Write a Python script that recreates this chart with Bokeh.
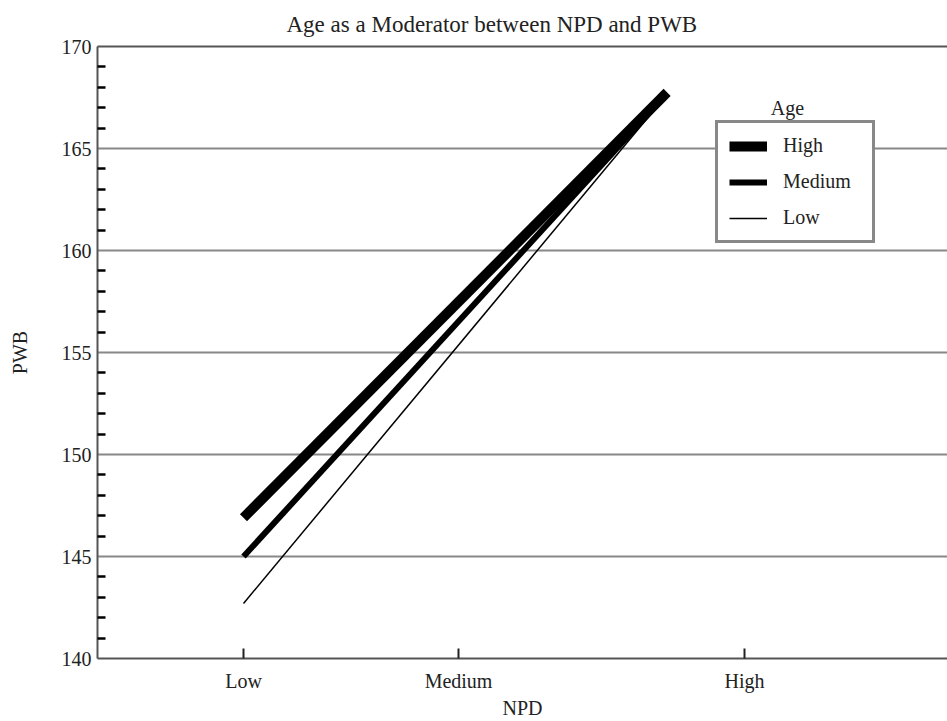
from bokeh.plotting import figure
from bokeh.models import (FixedTicker, LinearAxis, Legend, LegendItem, Label, Range1d)
from bokeh.embed import file_html
from bokeh.resources import INLINE

# ---- data ----
npd_tick_labels = ["Low", "Medium", "High"]
npd_tick_values = [0.0, 1.0, 2.33]
npd_line_x = [0.0, 1.97]
age_groups = ["High", "Medium", "Low"]
pwb_high_age = [146.9, 167.75]
pwb_medium_age = [145.0, 167.7]
pwb_low_age = [142.7, 167.65]
pwb_major_ticks = [140, 145, 150, 155, 160, 165, 170]
pwb_minor_ticks = [v for v in range(141, 170) if v % 5 != 0]

FONT = "Liberation Serif"
TXT = "#222222"
AXC = "#555555"
GRID = "#888888"

p = figure(width=947, height=721, output_backend="svg", toolbar_location=None,
           x_range=Range1d(-0.679, 3.274), y_range=Range1d(140, 170),
           min_border_left=97, min_border_right=0, min_border_top=44, min_border_bottom=62,
           title="Age as a Moderator between NPD and PWB")
p.outline_line_color = None
p.background_fill_color = "white"
p.border_fill_color = "white"

p.title.text_font = FONT
p.title.text_font_size = "23px"
p.title.text_font_style = "normal"
p.title.text_color = TXT
p.title.align = "left"
p.title.offset = 189
p.title.standoff = 19

# x axis
xa = p.xaxis[0]
xa.ticker = FixedTicker(ticks=npd_tick_values)
xa.major_label_overrides = {v: l for v, l in zip(npd_tick_values, npd_tick_labels)}
xa.major_tick_in = 10
xa.major_tick_out = 0
xa.major_tick_line_width = 2
xa.major_tick_line_color = TXT
xa.minor_tick_line_color = None
xa.axis_line_color = AXC
xa.axis_line_width = 2
xa.major_label_text_font = FONT
xa.major_label_text_font_size = "20px"
xa.major_label_text_color = TXT
xa.major_label_standoff = 11
xa.axis_label = "NPD"
xa.axis_label_text_font = FONT
xa.axis_label_text_font_size = "20px"
xa.axis_label_text_font_style = "normal"
xa.axis_label_text_color = TXT
xa.axis_label_standoff = 2

# y axis
ya = p.yaxis[0]
ya.ticker = FixedTicker(ticks=pwb_major_ticks, minor_ticks=pwb_minor_ticks)
ya.major_tick_in = 0
ya.major_tick_out = 0
ya.minor_tick_in = 8
ya.minor_tick_out = 0
ya.minor_tick_line_width = 2.5
ya.minor_tick_line_color = "black"
ya.axis_line_color = AXC
ya.axis_line_width = 2
ya.major_label_text_font = FONT
ya.major_label_text_font_size = "20px"
ya.major_label_text_color = TXT
ya.major_label_standoff = 6
ya.axis_label = "PWB"
ya.axis_label_text_font = FONT
ya.axis_label_text_font_size = "20px"
ya.axis_label_text_font_style = "normal"
ya.axis_label_text_color = TXT
ya.axis_label_standoff = 28

# top border
top = LinearAxis(ticker=FixedTicker(ticks=[]), major_label_text_font_size="0px",
                 axis_line_color=AXC, axis_line_width=2,
                 major_tick_line_color=None, minor_tick_line_color=None)
p.add_layout(top, "above")

p.xgrid.grid_line_color = None
p.ygrid.ticker = FixedTicker(ticks=[145, 150, 155, 160, 165])
p.ygrid.grid_line_color = GRID
p.ygrid.grid_line_width = 2

# lines
r_high = p.line(npd_line_x, pwb_high_age, line_color="black", line_width=10, line_cap="butt")
r_med = p.line(npd_line_x, pwb_medium_age, line_color="black", line_width=6, line_cap="butt")
r_low = p.line(npd_line_x, pwb_low_age, line_color="black", line_width=1.5, line_cap="butt")

legend = Legend(items=[LegendItem(label=age_groups[0], renderers=[r_high]),
                       LegendItem(label=age_groups[1], renderers=[r_med]),
                       LegendItem(label=age_groups[2], renderers=[r_low])],
                location=(618, 415))
legend.border_line_color = "#111111"
legend.border_line_width = 3
legend.background_fill_color = "white"
legend.background_fill_alpha = 1
legend.label_text_font = FONT
legend.label_text_font_size = "20px"
legend.label_text_color = TXT
legend.glyph_width = 38
legend.glyph_height = 20
legend.label_height = 20
legend.label_width = 78
legend.label_standoff = 16
legend.spacing = 13
legend.padding = 11
legend.margin = 0
p.add_layout(legend, "center")

p.add_layout(Label(x=2.53, y=167.0, text="Age", text_font=FONT, text_font_size="20px",
                   text_color=TXT, text_align="center", text_baseline="middle"))

open("out.html", "w").write(file_html(p, INLINE))
